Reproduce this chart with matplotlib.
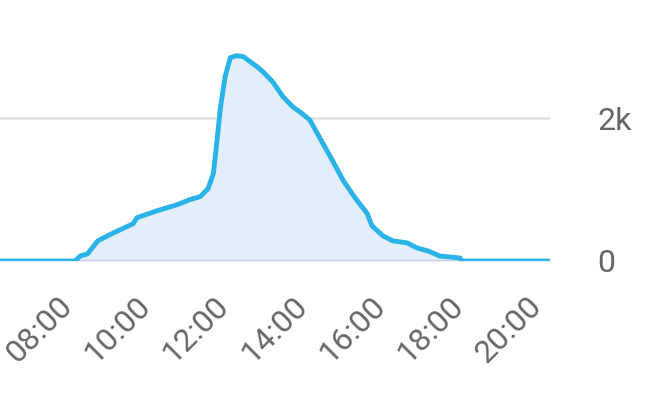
import matplotlib.pyplot as plt
from matplotlib.ticker import FuncFormatter
from matplotlib.transforms import ScaledTranslation

# Traffic over the day (time as HH:MM, value in requests)
times = ["06:20", "08:15", "08:23", "08:34", "08:50", "09:14", "09:44", "09:50",
         "10:21", "10:52", "11:11", "11:27", "11:39", "11:47", "11:51", "11:58",
         "12:05", "12:13", "12:23", "12:33", "12:54", "13:03", "13:18", "13:34",
         "13:49", "14:00", "14:15", "14:26", "14:46", "15:06", "15:24", "15:43",
         "15:50", "16:07", "16:22", "16:44", "16:59", "17:16", "17:34", "18:05",
         "18:08", "20:23"]
values = [0, 0, 70, 99, 282, 394, 521, 606,
          704, 789, 859, 901, 1014, 1225, 1549, 2155,
          2577, 2845, 2873, 2859, 2718, 2648, 2507, 2296,
          2155, 2085, 1972, 1789, 1465, 1127, 887, 662,
          493, 352, 282, 254, 183, 141, 70, 42,
          0, 0]
tick_hours = [8, 10, 12, 14, 16, 18, 20]
y_ticks = [0, 2000]
y_labels = ["0", "2k"]


def to_hours(t):
    h, m = t.split(":")
    return int(h) + int(m) / 60


hours = [to_hours(t) for t in times]

fig = plt.figure(figsize=(6.56, 3.94), dpi=100)
ax = fig.add_axes([0, 1 - 261 / 394, 550 / 656, 243 / 394])

ax.fill_between(hours, values, color="#e4eefa", zorder=1)
ax.plot(hours, values, color="#29b3e6", linewidth=3.5, solid_joinstyle="round",
        solid_capstyle="butt", zorder=3)

ax.set_xlim(hours[0], hours[-1])
ax.set_ylim(0, 3400)

ax.axhline(2000, color="#e0e0e0", linewidth=1.8, zorder=0)
ax.axhline(0, color="#c9d2e3", linewidth=2.5, zorder=2)

for s in ax.spines.values():
    s.set_visible(False)

ax.set_xticks(tick_hours)
ax.xaxis.set_major_formatter(FuncFormatter(lambda v, p: f"{int(v):02d}:00"))
ax.tick_params(axis="x", length=0, pad=22, labelsize=23, labelcolor="#666666")
shift = ScaledTranslation(-0.08, 0, fig.dpi_scale_trans)
for lab in ax.get_xticklabels():
    lab.set_rotation(45)
    lab.set_ha("right")
    lab.set_va("top")
    lab.set_rotation_mode("anchor")
    lab.set_fontfamily("Roboto")
    lab.set_transform(lab.get_transform() + shift)

ax.yaxis.tick_right()
ax.set_yticks(y_ticks)
ax.set_yticklabels(y_labels, fontfamily="Roboto")
ax.tick_params(axis="y", length=0, pad=34, labelsize=23, labelcolor="#666666")

plt.savefig("out.png", dpi=100)
